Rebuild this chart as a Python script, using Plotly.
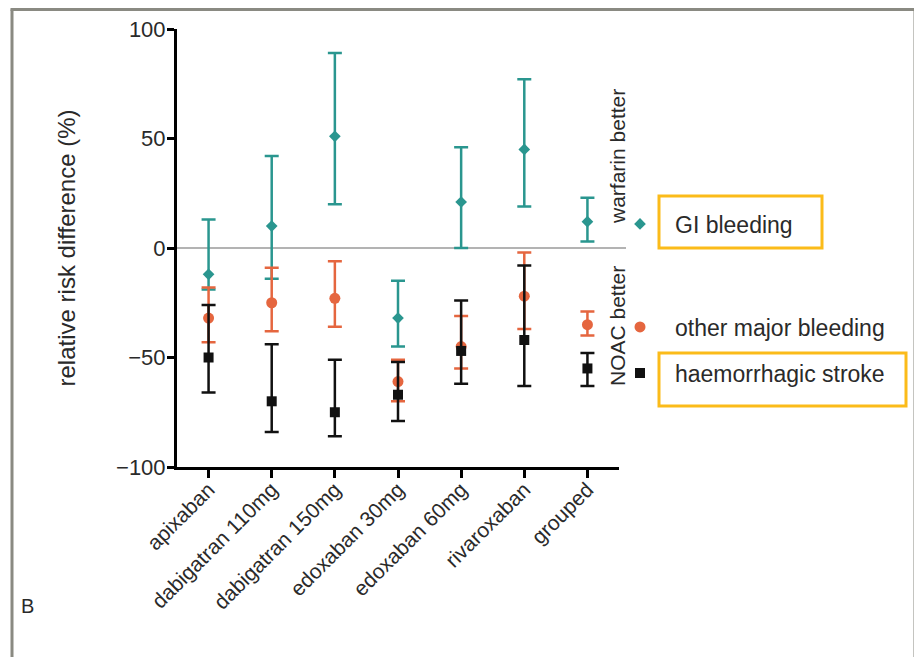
import plotly.graph_objects as go

# ---------------- data ----------------
categories = ["apixaban", "dabigatran 110mg", "dabigatran 150mg", "edoxaban 30mg",
              "edoxaban 60mg", "rivaroxaban", "grouped"]

gi_mid = [-12, 10, 51, -32, 21, 45, 12]
gi_low = [-19, -14, 20, -45, 0, 19, 3]
gi_high = [13, 42, 89, -15, 46, 77, 23]

omb_mid = [-32, -25, -23, -61, -45, -22, -35]
omb_low = [-43, -38, -36, -70, -55, -37, -40]
omb_high = [-18, -9, -6, -51, -31, -2, -29]

hs_mid = [-50, -70, -75, -67, -47, -42, -55]
hs_low = [-66, -84, -86, -79, -62, -63, -63]
hs_high = [-26, -44, -51, -52, -24, -8, -48]

series_names = ["GI bleeding", "other major bleeding", "haemorrhagic stroke"]
y_ticks = [-100, -50, 0, 50, 100]

# ---------------- layout geometry ----------------
OFF = 8                      # page body margin
W, H = 922 - OFF, 657 - OFF
ML, MT = 177 - OFF, 29 - OFF
MR = W - (619 - OFF)
MB = H - (467 - OFF)
PW, PH = W - ML - MR, H - MT - MB


def px(x):  # page pixel -> paper
    return (x - OFF - ML) / PW


def py(y):
    return (H - MB - (y - OFF)) / PH


TEAL = "#2a968f"
ORANGE = "#e5663f"
BLACK = "#111111"
GOLD = "#fbbb1a"
FONT = "Liberation Sans, Arial, sans-serif"
TXT = "#2a2a2a"

fig = go.Figure()


def add_series(name, mid, low, high, color, symbol, size, legend):
    fig.add_trace(go.Scatter(
        x=categories, y=mid, mode="markers", name=name,
        marker=dict(color=color, symbol=symbol, size=size),
        error_y=dict(type="data", symmetric=False,
                     array=[h - m for h, m in zip(high, mid)],
                     arrayminus=[m - l for m, l in zip(mid, low)],
                     color=color, thickness=2.5, width=7),
        legend=legend,
    ))


add_series(series_names[0], gi_mid, gi_low, gi_high, TEAL, "diamond", 9, "legend")
add_series(series_names[1], omb_mid, omb_low, omb_high, ORANGE, "circle", 11, "legend2")
add_series(series_names[2], hs_mid, hs_low, hs_high, BLACK, "square", 10, "legend3")

leg_common = dict(xanchor="left", yanchor="middle", bgcolor="rgba(0,0,0,0)",
                  font=dict(family=FONT, size=23, color=TXT), itemsizing="trace",
                  itemwidth=60)

FRAME = "#8a8a82"
TOP = py(9.5)
shapes = [
    # zero line
    dict(type="line", xref="paper", yref="y", x0=0, x1=px(626), y0=0, y1=0,
         line=dict(color="#9a9a9a", width=1.5), layer="below"),
    # highlight boxes
    dict(type="rect", xref="paper", yref="paper", x0=px(659), x1=px(822), y0=py(248), y1=py(196),
         line=dict(color=GOLD, width=3)),
    dict(type="rect", xref="paper", yref="paper", x0=px(659), x1=px(906), y0=py(406), y1=py(353),
         line=dict(color=GOLD, width=3)),
    # outer frame (left, top, right)
    dict(type="line", xref="paper", yref="paper", x0=px(12), x1=px(12), y0=TOP, y1=py(660),
         line=dict(color=FRAME, width=3)),
    dict(type="line", xref="paper", yref="paper", x0=px(10.5), x1=px(916.5), y0=TOP, y1=TOP,
         line=dict(color=FRAME, width=3)),
    dict(type="line", xref="paper", yref="paper", x0=px(915), x1=px(915), y0=TOP, y1=py(660),
         line=dict(color=FRAME, width=3)),
]

annotations = [
    dict(text="warfarin better", xref="paper", yref="paper", x=px(617), y=py(157),
         xanchor="center", yanchor="middle",
         textangle=-90, showarrow=False, font=dict(family=FONT, size=21, color=TXT)),
    dict(text="NOAC better", xref="paper", yref="paper", x=px(617), y=py(326),
         xanchor="center", yanchor="middle",
         textangle=-90, showarrow=False, font=dict(family=FONT, size=21, color=TXT)),
    dict(text="B", xref="paper", yref="paper", x=px(27), y=py(606),
         xanchor="center", yanchor="middle",
         showarrow=False, font=dict(family=FONT, size=20, color=TXT)),
]

fig.update_layout(
    width=W, height=H,
    margin=dict(l=ML, r=MR, t=MT, b=MB, autoexpand=False),
    paper_bgcolor="white", plot_bgcolor="white",
    font=dict(family=FONT, size=21, color=TXT),
    showlegend=True,
    legend=dict(x=px(605), y=py(224), **leg_common),
    legend2=dict(x=px(605), y=py(327), **leg_common),
    legend3=dict(x=px(605), y=py(373), **leg_common),
    shapes=shapes,
    annotations=annotations,
    xaxis=dict(type="category", range=[-0.5, 6.5], showgrid=False, zeroline=False,
               showline=True, linecolor="black", linewidth=3,
               ticks="outside", ticklen=8, tickwidth=3, tickcolor="black",
               tickangle=-45, ticklabelstandoff=-9,
               tickfont=dict(family=FONT, size=21, color=TXT)),
    yaxis=dict(range=[-100, 100], tickvals=y_ticks, showgrid=False, zeroline=False,
               showline=True, linecolor="black", linewidth=3,
               ticks="outside", ticklen=7, tickwidth=3, tickcolor="black",
               ticklabelstandoff=-3,
               tickfont=dict(family=FONT, size=22, color=TXT),
               title=dict(text="relative risk difference (%)", standoff=34,
                          font=dict(family=FONT, size=24, color=TXT))),
)

fig.write_html("out.html")
